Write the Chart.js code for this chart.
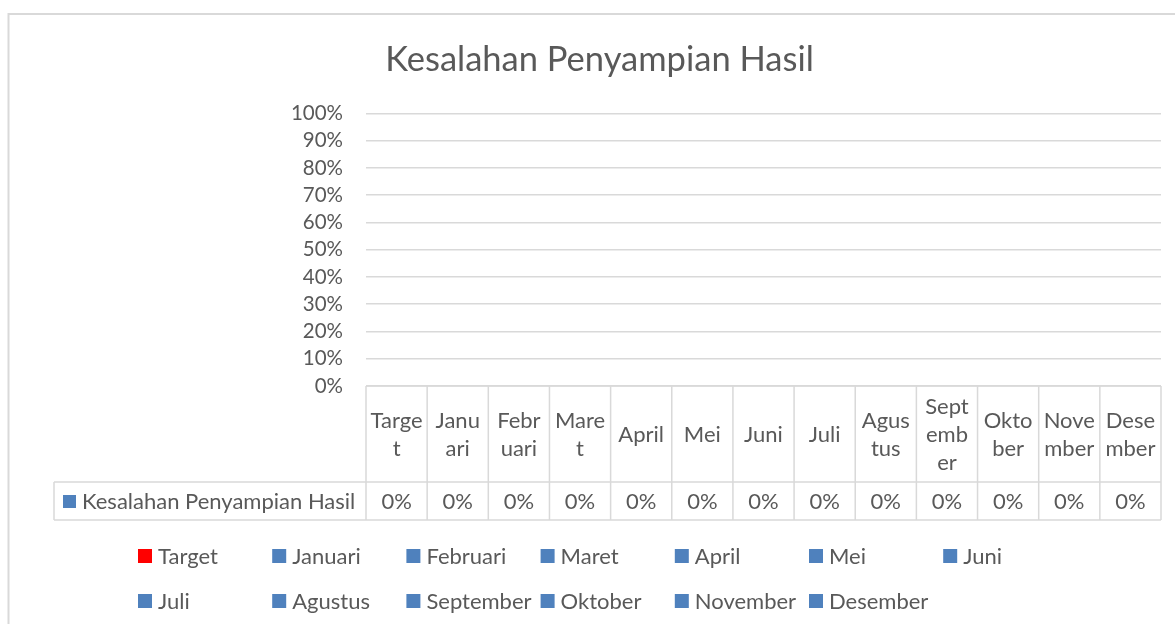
<!DOCTYPE html>
<html>
<head>
<meta charset="utf-8">
<script src="https://cdn.jsdelivr.net/npm/chart.js@4.4.0/dist/chart.umd.min.js"></script>
<style>
  html, body { margin: 0; padding: 0; background: #fff; }
</style>
</head>
<body>
<canvas id="chart" width="1175" height="624"></canvas>
<script>
const chartTitle = 'Kesalahan Penyampian Hasil';
const seriesName = 'Kesalahan Penyampian Hasil';
const categories = ['Target', 'Januari', 'Februari', 'Maret', 'April', 'Mei', 'Juni',
  'Juli', 'Agustus', 'September', 'Oktober', 'November', 'Desember'];
// header labels of the data table, wrapped the way the original shows them
const tickLabels = [['Targe', 't'], ['Janu', 'ari'], ['Febr', 'uari'], ['Mare', 't'], ['April'],
  ['Mei'], ['Juni'], ['Juli'], ['Agus', 'tus'], ['Sept', 'emb', 'er'], ['Okto', 'ber'],
  ['Nove', 'mber'], ['Dese', 'mber']];
const seriesValues = [0, 0, 0, 0, 0, 0, 0, 0, 0, 0, 0, 0, 0];
const barColors = ['#FF0000', '#4F81BD', '#4F81BD', '#4F81BD', '#4F81BD', '#4F81BD', '#4F81BD',
  '#4F81BD', '#4F81BD', '#4F81BD', '#4F81BD', '#4F81BD', '#4F81BD'];

const FONT = 'Lato, "Open Sans", sans-serif';
const TEXT = '#595959';
const LINE = '#d9d9d9';

// draws the data table under the plot, the legend and the outer frame
const tableAndLegend = {
  id: 'tableAndLegend',
  afterDraw(chart) {
    const ctx = chart.ctx;
    const area = chart.chartArea;
    const x = chart.scales.x;
    const colW = (area.right - area.left) / categories.length;
    const top = area.bottom;
    const headBottom = top + 96;
    const rowBottom = headBottom + 38;
    const labelLeft = 54;

    ctx.save();
    ctx.strokeStyle = LINE;
    ctx.lineWidth = 1.5;
    ctx.beginPath();
    ctx.moveTo(area.left, top); ctx.lineTo(area.right, top);
    ctx.moveTo(labelLeft, headBottom); ctx.lineTo(area.right, headBottom);
    ctx.moveTo(labelLeft, rowBottom); ctx.lineTo(area.right, rowBottom);
    ctx.moveTo(labelLeft, headBottom); ctx.lineTo(labelLeft, rowBottom);
    for (let i = 0; i <= categories.length; i++) {
      const bx = x.getPixelForValue(0) - colW / 2 + i * colW;
      ctx.moveTo(bx, top); ctx.lineTo(bx, rowBottom);
    }
    ctx.stroke();

    ctx.fillStyle = TEXT;
    ctx.font = '22px ' + FONT;
    ctx.textAlign = 'center';
    ctx.textBaseline = 'middle';
    const lh = 28;
    tickLabels.forEach((lines, i) => {
      const cx = x.getPixelForValue(i);
      const cy = (top + headBottom) / 2 + 1;
      const y0 = cy - (lines.length - 1) * lh / 2;
      lines.forEach((t, j) => ctx.fillText(t, cx, y0 + j * lh));
      ctx.fillText(seriesValues[i] + '%', cx, (headBottom + rowBottom) / 2 + 1);
    });

    // series label cell
    ctx.fillStyle = '#4F81BD';
    ctx.fillRect(63, 495, 13, 13);
    ctx.fillStyle = TEXT;
    ctx.textAlign = 'left';
    ctx.fillText(seriesName, 82, (headBottom + rowBottom) / 2 + 1);

    // legend, 7 entries per row
    const legX = 138, legStep = 134.2, legRows = [556, 601];
    categories.forEach((name, i) => {
      const lx = legX + (i % 7) * legStep;
      const ly = legRows[Math.floor(i / 7)];
      ctx.fillStyle = barColors[i];
      ctx.fillRect(lx, ly - 7, 14, 14);
      ctx.fillStyle = TEXT;
      ctx.fillText(name, lx + 20, ly + 1);
    });

    // chart frame (runs past the right and bottom edge)
    ctx.strokeStyle = LINE;
    ctx.lineWidth = 2;
    ctx.strokeRect(8.5, 14, 1200, 700);
    ctx.restore();
  }
};

new Chart(document.getElementById('chart'), {
  type: 'bar',
  data: {
    labels: categories,
    datasets: [{
      label: seriesName,
      data: seriesValues,
      backgroundColor: barColors,
      borderWidth: 0
    }]
  },
  options: {
    responsive: false,
    animation: false,
    devicePixelRatio: 1,
    layout: { padding: { top: 0, left: 38, right: 14, bottom: 238 } },
    plugins: {
      legend: { display: false },
      tooltip: { enabled: false },
      title: {
        display: true,
        text: chartTitle,
        color: TEXT,
        font: { family: FONT, size: 34.5, weight: 'normal' },
        padding: { top: 39, bottom: 33 }
      }
    },
    scales: {
      x: { display: false },
      y: {
        min: 0,
        max: 100,
        afterFit(scale) { scale.width = 328; },
        ticks: {
          stepSize: 10,
          autoSkip: false,
          padding: 23,
          color: TEXT,
          font: { family: FONT, size: 20.5 },
          callback: v => v + '%'
        },
        grid: { color: LINE, lineWidth: 1.5, drawTicks: false },
        border: { display: false }
      }
    }
  },
  plugins: [tableAndLegend]
});
</script>
</body>
</html>
